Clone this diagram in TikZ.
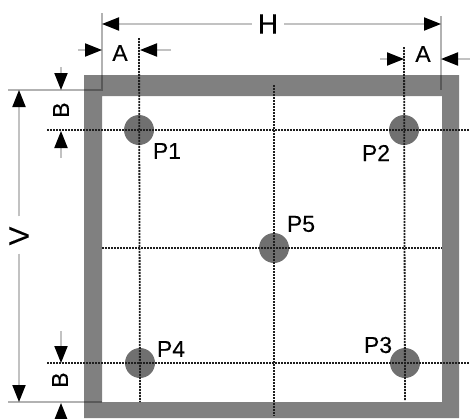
\documentclass[tikz,border=0pt]{standalone}
\usepackage{fontspec}
\setmainfont{Liberation Sans}
\newfontfamily\labelfont[FakeBold=0.25]{Liberation Sans}
\usetikzlibrary{arrows.meta}
\definecolor{framegray}{gray}{0.5}
\definecolor{padgray}{gray}{0.44}
\definecolor{dimgray}{gray}{0.76}
\tikzstyle{frame}=[fill=framegray,even odd rule]
\tikzstyle{axis}=[draw=black!88,line width=1.8pt,dash pattern=on 2pt off 1pt]
\tikzstyle{pad}=[circle,fill=padgray,minimum size=30pt,inner sep=0pt]
\tikzstyle{extline}=[draw=black,draw opacity=0.3,line width=1.2pt]
\tikzstyle{dimline}=[draw=dimgray,line width=2pt]
\tikzstyle{dimtip}=[dimline,-{Triangle[length=17pt,width=13pt,color=black]}]
\tikzstyle{biglabel}=[font=\labelfont\fontsize{28}{28}\selectfont,inner sep=0pt,text=black]
\tikzstyle{smalllabel}=[font=\labelfont\fontsize{23}{23}\selectfont,inner sep=0pt,text=black]

\begin{document}
\begin{tikzpicture}[x=1pt,y=-1pt]
\useasboundingbox (0,0) rectangle (470,418);
\path[frame] (84,75) rectangle (459,418) (102,96) rectangle (442,402);

% pads
\node [pad] (P1) at (139,130) {};
\node [pad] (P2) at (404,130) {};
\node [pad] (P3) at (405,363) {};
\node [pad] (P4) at (140,363) {};
\node [pad] (P5) at (274,248) {};

% centre lines
\coordinate (rowTopW) at (47,130);
\coordinate (rowTopE) at (470,130);
\coordinate (rowMidW) at (102,248);
\coordinate (rowMidE) at (442,248);
\coordinate (rowLowW) at (47,363);
\coordinate (rowLowE) at (470,363);
\coordinate (colLeftN) at (139,38);
\coordinate (colLeftS) at (140,402);
\coordinate (colMidN) at (274,85);
\coordinate (colMidS) at (274,416);
\coordinate (colRightN) at (404,47);
\coordinate (colRightS) at (405,400);
\draw [axis] (rowTopW) -- (rowTopE);
\draw [axis] (rowMidW) -- (rowMidE);
\draw [axis] (rowLowW) -- (rowLowE);
\draw [axis] (colLeftN) -- (colLeftS);
\draw [axis] (colMidN) -- (colMidS);
\draw [axis] (colRightN) -- (colRightS);

% extension lines
\coordinate (cornerNW) at (102,90);
\coordinate (cornerNE) at (441,90);
\coordinate (cornerSW) at (102,402);
\coordinate (extH1) at (102,13);
\coordinate (extH2) at (441,16);
\coordinate (extV1) at (8,90);
\coordinate (extV2) at (8,402);
\draw [extline] (extH1) -- (cornerNW) -- (extV1);
\draw [extline] (extH2) -- (cornerNE);
\draw [extline] (extV2) -- (cornerSW);

% H
\node [biglabel] (H) at (268,24) {H};
\coordinate (hTipW) at (102,24);
\coordinate (hTipE) at (441,24);
\draw [dimtip] (H.west) ++(-6,0) -- (hTipW);
\draw [dimtip] (H.east) ++(6,0) -- (hTipE);

% V
\node [biglabel,rotate=90] (V) at (19,236) {V};
\coordinate (vTipN) at (19,90);
\coordinate (vTipS) at (19,402);
\draw [dimtip] (V.east) ++(0,-10) -- (vTipN);
\draw [dimtip] (V.west) ++(0,8) -- (vTipS);

% A left
\node [smalllabel] (Aleft) at (120,53) {A};
\coordinate (aLeftW) at (78,50);
\coordinate (aLeftTip1) at (102,50);
\coordinate (aLeftE) at (171,50);
\coordinate (aLeftTip2) at (140,50);
\draw [dimtip] (aLeftW) -- (aLeftTip1);
\draw [dimtip] (aLeftE) -- (aLeftTip2);

% A right
\node [smalllabel] (Aright) at (423,54) {A};
\coordinate (aRightW) at (380,59);
\coordinate (aRightTip1) at (404,59);
\coordinate (aRightE) at (470,59);
\coordinate (aRightTip2) at (441,59);
\draw [dimtip] (aRightW) -- (aRightTip1);
\draw [dimtip] (aRightE) -- (aRightTip2);

% B top
\node [smalllabel,rotate=90] (Btop) at (61,110) {B};
\coordinate (bTopN) at (61,67);
\coordinate (bTopTip1) at (61,90);
\coordinate (bTopS) at (61,158);
\coordinate (bTopTip2) at (61,131);
\draw [dimtip] (bTopN) -- (bTopTip1);
\draw [dimtip] (bTopS) -- (bTopTip2);

% B low
\node [smalllabel,rotate=90] (Blow) at (60,380) {B};
\coordinate (bLowN) at (61,331);
\coordinate (bLowTip1) at (61,363);
\coordinate (bLowS) at (61,424);
\coordinate (bLowTip2) at (61,403);
\draw [dimtip] (bLowN) -- (bLowTip1);
\draw [dimtip] (bLowS) -- (bLowTip2);

% pad labels
\node [smalllabel] (labelP1) at (167,151) {P1};
\node [smalllabel] (labelP2) at (376,153) {P2};
\node [smalllabel] (labelP3) at (378,345) {P3};
\node [smalllabel] (labelP4) at (171,349) {P4};
\node [smalllabel] (labelP5) at (301,224) {P5};
\end{tikzpicture}
\end{document}
